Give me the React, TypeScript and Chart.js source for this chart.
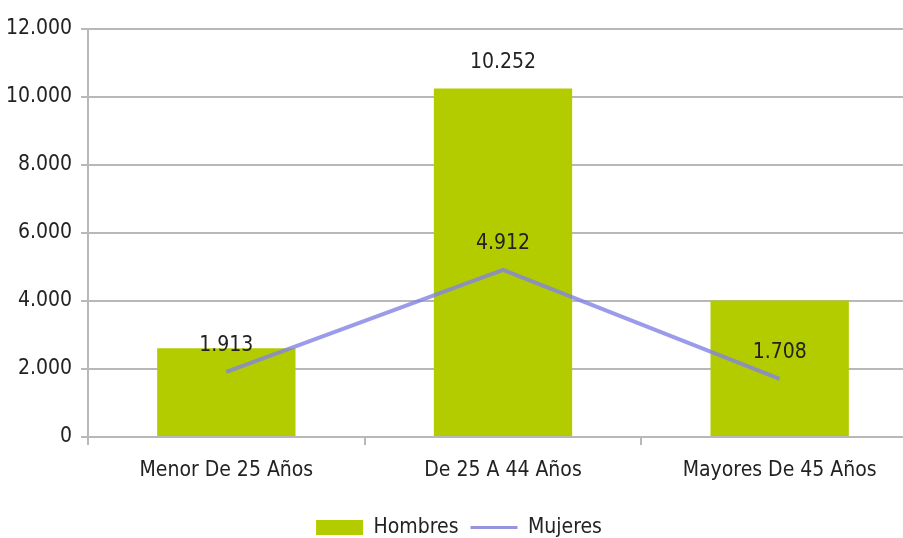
import React, { useEffect, useRef } from "react";
import { Chart, registerables } from "chart.js";

Chart.register(...registerables);

const categories = ["Menor De 25 Años", "De 25 A 44 Años", "Mayores De 45 Años"];
const hombres = [2610, 10252, 4015];
const mujeres = [1913, 4912, 1708];
const hombresLabelShown = [false, true, false];
const yMin = 0;
const yMax = 12000;
const yStep = 2000;

const FONT = '"Liberation Sans Narrow", "DejaVu Sans Condensed", "Arial Narrow", sans-serif';
const FS = 21;
const BAR = "#b3cc00";
const LINE = "rgba(130,130,228,0.8)";
const GRID = "#b8b8b8";
const TEXT = "#222222";

const fmt = (v: number) => String(Math.round(v)).replace(/\B(?=(\d{3})+(?!\d))/g, ".");

const valueLabels = {
  id: "valueLabels",
  afterDatasetsDraw(chart: any) {
    const ctx = chart.ctx;
    ctx.save();
    ctx.font = `${FS}px ${FONT}`;
    ctx.fillStyle = TEXT;
    ctx.textAlign = "center";
    ctx.textBaseline = "middle";
    chart.getDatasetMeta(0).data.forEach((el: any, i: number) => {
      if (hombresLabelShown[i]) ctx.fillText(fmt(hombres[i]), el.x, el.y - 26);
    });
    chart.getDatasetMeta(1).data.forEach((el: any, i: number) => {
      ctx.fillText(fmt(mujeres[i]), el.x, el.y - 26);
    });
    ctx.restore();
  },
};

export default function App() {
  const ref = useRef<HTMLCanvasElement | null>(null);
  useEffect(() => {
    if (!ref.current) return;
    const chart = new Chart(ref.current, {
      type: "bar",
      data: {
        labels: categories,
        datasets: [
          {
            type: "bar",
            label: "Hombres",
            data: hombres,
            backgroundColor: BAR,
            barPercentage: 0.5,
            categoryPercentage: 1,
            order: 2,
          },
          {
            type: "line",
            label: "Mujeres",
            data: mujeres,
            borderColor: LINE,
            borderWidth: 4,
            pointRadius: 0,
            tension: 0,
            fill: false,
            order: 1,
          },
        ],
      } as any,
      options: {
        responsive: false,
        animation: false,
        devicePixelRatio: 1,
        layout: { padding: { top: 29, right: 7, left: 0, bottom: -10 } },
        plugins: {
          tooltip: { enabled: false },
          legend: {
            position: "bottom",
            labels: {
              usePointStyle: true,
              pointStyleWidth: 47,
              boxHeight: 15,
              padding: 12,
              color: TEXT,
              font: { family: FONT, size: FS },
              generateLabels: (c: any) => [
                {
                  text: c.data.datasets[0].label,
                  fillStyle: BAR,
                  strokeStyle: BAR,
                  lineWidth: 0,
                  pointStyle: "rect",
                  datasetIndex: 0,
                  hidden: false,
                  fontColor: TEXT,
                },
                {
                  text: c.data.datasets[1].label,
                  fillStyle: "rgba(150,150,220,1)",
                  strokeStyle: "rgba(150,150,220,1)",
                  lineWidth: 3,
                  pointStyle: "line",
                  datasetIndex: 1,
                  hidden: false,
                  fontColor: TEXT,
                },
              ],
            },
          },
        },
        scales: {
          x: {
            afterFit: (s: any) => {
              s.height = 68;
            },
            grid: {
              display: true,
              drawOnChartArea: false,
              drawTicks: true,
              tickLength: 8,
              color: GRID,
              lineWidth: 2,
              offset: true,
            },
            border: { display: true, color: GRID, width: 2 },
            ticks: { color: TEXT, font: { family: FONT, size: FS }, padding: 13, maxRotation: 0 },
          },
          y: {
            min: yMin,
            max: yMax,
            afterFit: (s: any) => {
              s.width = 88;
            },
            grid: { color: GRID, lineWidth: 2, tickLength: 7, drawTicks: true },
            border: { display: true, color: GRID, width: 2 },
            ticks: {
              stepSize: yStep,
              padding: 9,
              color: TEXT,
              font: { family: FONT, size: FS },
              callback: (v: any) => fmt(Number(v)),
            },
          },
        },
      } as any,
      plugins: [valueLabels],
    });
    return () => chart.destroy();
  }, []);

  return (
    <div
      style={{
        position: "absolute",
        left: 0,
        top: 0,
        width: 903,
        height: 538,
        overflow: "hidden",
        background: "#ffffff",
      }}
    >
      <canvas ref={ref} width={925} height={538} style={{ display: "block" }} />
    </div>
  );
}
